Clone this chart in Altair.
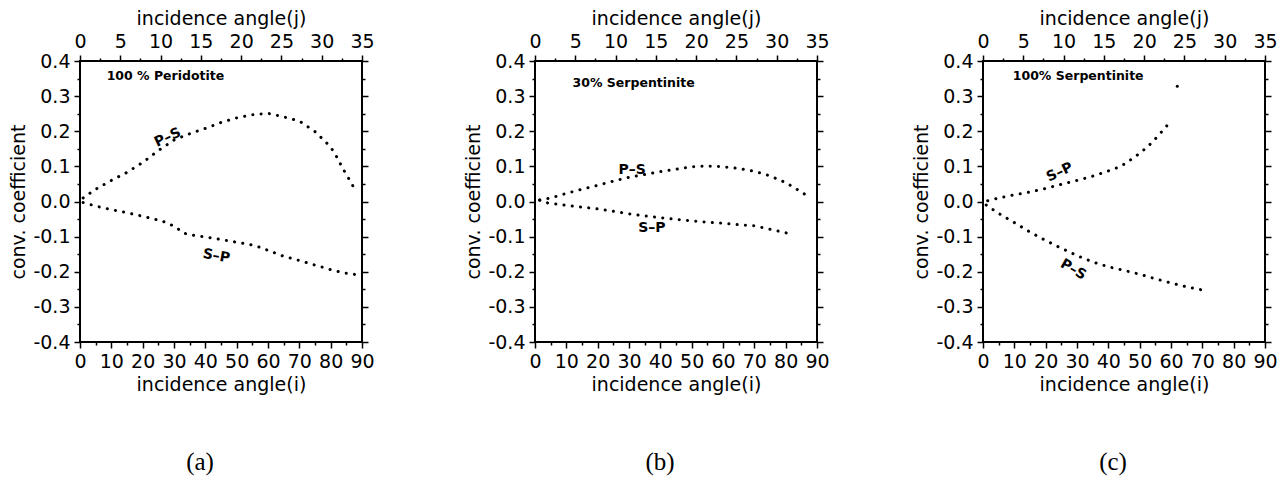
import altair as alt
import pandas as pd

# ---------------- data ----------------
# (a) 100 % Peridotite
a_ps_i = [1, 5, 10, 15, 20, 25, 30, 35, 40, 45, 50, 55, 60, 65, 70, 75, 78, 80, 82, 84, 86, 88]
a_ps_c = [0.01, 0.035, 0.06, 0.083, 0.111, 0.145, 0.175, 0.193, 0.208, 0.225, 0.238, 0.247,
          0.251, 0.241, 0.229, 0.199, 0.173, 0.155, 0.126, 0.092, 0.062, 0.03]
a_sp_i = [1, 5, 10, 15, 20, 25, 28, 31, 33, 36, 40, 45, 50, 55, 58, 60, 65, 70, 75, 80, 84, 88]
a_sp_c = [-0.003, -0.013, -0.023, -0.032, -0.042, -0.053, -0.061, -0.076, -0.09, -0.096, -0.101,
          -0.108, -0.116, -0.124, -0.132, -0.139, -0.156, -0.168, -0.181, -0.194, -0.203, -0.208]

# (b) 30% Serpentinite
b_ps_i = [1.5, 5, 10, 15, 20, 25, 30, 35, 40, 45, 50, 55, 60, 65, 70, 75, 80, 85, 88]
b_ps_c = [0.004, 0.01, 0.023, 0.035, 0.046, 0.058, 0.069, 0.077, 0.085, 0.092, 0.099, 0.101,
          0.099, 0.094, 0.086, 0.073, 0.054, 0.027, 0.01]
b_sp_i = [1.5, 4, 10, 15, 20, 25, 30, 35, 40, 45, 50, 55, 60, 65, 70, 75, 80, 82.5]
b_sp_c = [0.004, -0.004, -0.011, -0.016, -0.021, -0.028, -0.035, -0.041, -0.046, -0.051, -0.055,
          -0.059, -0.062, -0.066, -0.069, -0.079, -0.089, -0.094]

# (c) 100% Serpentinite
c_sp_i = [1.5, 5, 10, 15, 20, 25, 30, 35, 40, 44, 47, 50, 53, 56, 59]
c_sp_c = [0.002, 0.01, 0.019, 0.027, 0.037, 0.049, 0.06, 0.072, 0.087, 0.1, 0.118, 0.137, 0.16,
          0.188, 0.219]
c_sp_extra_i = [62]
c_sp_extra_c = [0.328]
c_ps_i = [1, 5, 10, 15, 20, 25, 30, 35, 40, 45, 50, 55, 60, 65, 70]
c_ps_c = [-0.01, -0.034, -0.06, -0.087, -0.111, -0.133, -0.154, -0.172, -0.186, -0.196, -0.207,
          -0.22, -0.232, -0.243, -0.252]

# annotations: text, i, c, angle, align, size
a_notes = [("100 % Peridotite", 8.5, 0.357, 0, "left", 12.5), ("P–S", 28, 0.182, 335, "center", 14),
           ("S–P", 43.5, -0.156, 10, "center", 14)]
b_notes = [("30% Serpentinite", 12, 0.338, 0, "left", 12.5), ("P–S", 31, 0.091, 0, "center", 14),
           ("S–P", 37.3, -0.075, 0, "center", 14)]
c_notes = [("100% Serpentinite", 9.5, 0.357, 0, "left", 12.5), ("S–P", 24.5, 0.083, 335, "center", 14),
           ("P–S", 28.8, -0.194, 30, "center", 14)]
panel_tags = ["(a)", "(b)", "(c)"]

i_major = list(range(0, 91, 10))
i_minor = list(range(5, 91, 10))
j_major = list(range(0, 36, 5))
j_minor = [2.5 + 5 * k for k in range(7)]
c_major = [-0.4, -0.3, -0.2, -0.1, 0.0, 0.1, 0.2, 0.3, 0.4]
c_minor = [-0.35, -0.25, -0.15, -0.05, 0.05, 0.15, 0.25, 0.35]

FONT = "DejaVu Sans"
FS = 19
W, H = 282, 281
I_MAX = 90
J_MAX = 35
I_DOM = [0, I_MAX]
C_DOM = [-0.4, 0.4]
XSC = alt.Scale(domain=I_DOM, nice=False, zero=False)
YSC = alt.Scale(domain=C_DOM, nice=False, zero=False)


def axis_layer(channel, values, orient, tick_size, labels=False, title=None, label_expr=None):
    df = pd.DataFrame({"i": [0.0], "c": [0.0]})
    kw = dict(orient=orient, values=values, tickSize=tick_size, labels=labels,
              domain=False, grid=False, tickColor="black", tickWidth=1.5,
              labelFont=FONT, labelFontSize=FS, labelColor="black", labelPadding=4,
              labelOverlap=False, labelFlush=False,
              titleFont=FONT, titleFontSize=FS, titleFontWeight="normal", titleColor="black",
              titlePadding=4)
    kw["title"] = title if title else None
    if label_expr:
        kw["labelExpr"] = label_expr
    ax = alt.Axis(**kw)
    if channel == "x":
        enc = {"x": alt.X("i:Q", scale=XSC, axis=ax), "y": alt.Y("c:Q", scale=YSC, axis=None)}
    else:
        enc = {"y": alt.Y("c:Q", scale=YSC, axis=ax), "x": alt.X("i:Q", scale=XSC, axis=None)}
    return alt.Chart(df).mark_point(opacity=0).encode(**enc)


def panel(curves, notes, tag, dx, extra=None):
    frames = [pd.DataFrame({"i": xs, "c": ys, "curve": name}) for name, (xs, ys) in curves.items()]
    df = pd.concat(frames, ignore_index=True)
    layers = [alt.Chart(df).mark_line(
        color="black", strokeWidth=3, strokeCap="round", strokeDash=[0.1, 8.2]
    ).encode(
        x=alt.X("i:Q", scale=XSC, axis=None),
        y=alt.Y("c:Q", scale=YSC, axis=None),
        detail="curve:N",
    )]
    for txt, xi, yc, ang, al, fs in notes:
        tdf = pd.DataFrame({"i": [xi], "c": [yc], "t": [txt]})
        layers.append(
            alt.Chart(tdf).mark_text(font=FONT, fontWeight="bold", fontSize=fs, angle=ang, align=al,
                                     baseline="middle", color="black").encode(
                x=alt.X("i:Q", scale=XSC, axis=None),
                y=alt.Y("c:Q", scale=YSC, axis=None),
                text="t:N",
            )
        )
    if extra is not None:
        edf = pd.DataFrame({"i": extra[0], "c": extra[1]})
        layers.append(
            alt.Chart(edf).mark_circle(size=9, color="black", opacity=1).encode(
                x=alt.X("i:Q", scale=XSC, axis=None),
                y=alt.Y("c:Q", scale=YSC, axis=None),
            )
        )

    lab_y = "replace(format(datum.value, '.1f'), '\u2212', '-')"
    lab_j = "format(round(datum.value * %d / %d), 'd')" % (J_MAX, I_MAX)
    j_pos_major = [j * I_MAX / J_MAX for j in j_major]
    j_pos_minor = [j * I_MAX / J_MAX for j in j_minor]
    layers += [
        axis_layer("x", i_major, "bottom", 6, labels=True, title="incidence angle(i)"),
        axis_layer("x", i_minor, "bottom", 3),
        axis_layer("x", j_pos_major, "top", 6, labels=True, title="incidence angle(j)",
                   label_expr=lab_j),
        axis_layer("x", j_pos_minor, "top", 3),
        axis_layer("y", c_major, "left", 6, labels=True, title="conv. coefficient",
                   label_expr=lab_y),
        axis_layer("y", c_minor, "left", 3),
        axis_layer("y", c_major, "right", 6),
        axis_layer("y", c_minor, "right", 3),
    ]

    return alt.layer(*layers).resolve_axis(x="independent", y="independent").properties(
        width=W, height=H,
        title=alt.TitleParams(text=tag, orient="bottom", anchor="middle", frame="group",
                              font="Liberation Serif", fontSize=25, fontWeight="normal",
                              color="black", offset=56, dx=dx),
    )


pa = panel({"PS": (a_ps_i, a_ps_c), "SP": (a_sp_i, a_sp_c)}, a_notes, panel_tags[0], -21)
pb = panel({"PS": (b_ps_i, b_ps_c), "SP": (b_sp_i, b_sp_c)}, b_notes, panel_tags[1], -16)
pc = panel({"SP": (c_sp_i, c_sp_c), "PS": (c_ps_i, c_ps_c)}, c_notes, panel_tags[2], -11,
           extra=(c_sp_extra_i, c_sp_extra_c))

chart = alt.hconcat(alt.hconcat(pa, pb, spacing=87), pc, spacing=80).properties(
    padding={"left": 8, "top": 8, "right": 5, "bottom": 5}
).configure_view(stroke="black", strokeWidth=2)

chart.save("out.html", embed_options={"renderer": "svg", "actions": False})
